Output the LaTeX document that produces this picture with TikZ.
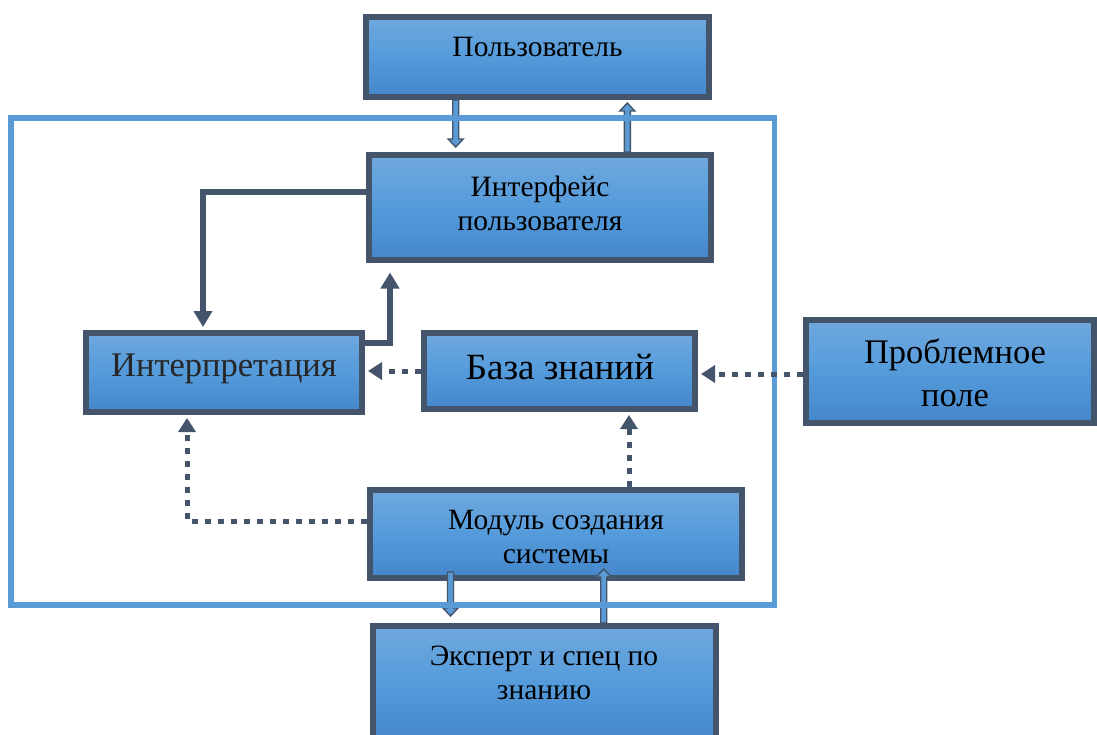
\documentclass[tikz,border=0pt]{standalone}
\usepackage{fontspec}
\setmainfont{Liberation Serif}
\usetikzlibrary{arrows.meta,calc}

\definecolor{edge}{HTML}{44546A}
\definecolor{frameblue}{HTML}{5B9BD5}
\definecolor{boxtop}{HTML}{70A8DE}
\definecolor{boxmid}{HTML}{549BDB}
\definecolor{boxbot}{HTML}{4487CB}
\definecolor{shaft}{HTML}{5B9BD5}

\tikzset{
  box/.style={draw=edge, line width=6pt, top color=boxtop, bottom color=boxbot,
    middle color=boxmid, inner sep=0pt},
  label text/.style={align=center, text=black, inner sep=0pt},
  solidarr/.style={draw=edge, line width=5.5pt,
    -{Triangle[width=18pt,length=16pt]}},
  dotarr/.style={draw=edge, line width=5pt, dash pattern=on 6pt off 7pt,
    -{Triangle[width=17pt,length=14pt]}},
  hollow/.style={fill=shaft, draw=edge, line width=1.4pt, line join=miter},
}

% Outlined block arrow from #1 to the level of #2 (same x as #1);
% #3 = 1 when the tip lies below the start, -1 when above.
\newcommand\hollowarrow[3]{%
  \coordinate (ha-s) at #1;
  \coordinate (ha-e) at #2;
  \filldraw[hollow]
    ($(ha-s)+(-3,0)$) -- ($(ha-s |- ha-e)+(-3,{-8*(#3)})$)
    -- ($(ha-s |- ha-e)+(-7.5,{-8*(#3)})$) -- (ha-s |- ha-e)
    -- ($(ha-s |- ha-e)+(7.5,{-8*(#3)})$) -- ($(ha-s |- ha-e)+(3,{-8*(#3)})$)
    -- ($(ha-s)+(3,0)$) -- cycle;}

\begin{document}
\begin{tikzpicture}[x=1pt,y=-1pt]
  \useasboundingbox (0,0) rectangle (1097,735);
  \clip (0,0) rectangle (1097,735);
  \fill[white] (0,0) rectangle (1097,735);

  % blocks
  \node[box, minimum width=343pt, minimum height=80pt]  (user)   at (537.5,57)  {};
  \node[box, minimum width=342pt, minimum height=105pt] (iface)  at (540,207.5) {};
  \node[box, minimum width=276pt, minimum height=79pt]  (interp) at (224,372.5) {};
  \node[box, minimum width=271pt, minimum height=76pt]  (kb)     at (559.5,371) {};
  \node[box, minimum width=288pt, minimum height=103pt] (prob)   at (950,371.5) {};
  \node[box, minimum width=372pt, minimum height=88pt]  (module) at (556,534)   {};
  \node[box, minimum width=343pt, minimum height=116pt] (expert) at (544.5,684) {};

  % captions
  \node[label text, font=\fontsize{29.5}{34}\selectfont] (tuser)   at (537.5,47) {Пользователь};
  \node[label text, font=\fontsize{29.5}{34}\selectfont] (tiface)  at (540,203)  {Интерфейс\\пользователя};
  \node[label text, font=\fontsize{34.5}{40}\selectfont, text=black!85] (tinterp) at (224,369) {Интерпретация};
  \node[label text, font=\fontsize{37}{40}\selectfont] (tkb)     at (560,367)  {База знаний};
  \node[label text, font=\fontsize{34.5}{43}\selectfont] (tprob)   at (955,373)  {Проблемное\\поле};
  \node[label text, font=\fontsize{29.5}{34}\selectfont] (tmodule) at (556,537)  {Модуль создания\\системы};
  \node[label text, font=\fontsize{29.5}{34}\selectfont] (texpert) at (544,673)  {Эксперт и спец по\\знанию};

  % user <-> interface and module <-> expert
  \hollowarrow{($(user.south west)+(92.7,0)$)}{($(iface.north west)+(92.7,-5)$)}{1}
  \hollowarrow{($(iface.north west)+(261.3,0)$)}{($(user.south west)+(264.3,3)$)}{-1}
  \hollowarrow{($(module.south west)+(83.5,-9)$)}{($(expert.north west)+(83.5,-7)$)}{1}
  \hollowarrow{($(expert.north west)+(233.7,0)$)}{($(module.south west)+(233.7,-12)$)}{-1}

  % system boundary
  \draw[frameblue, line width=5.5pt] (11,118) rectangle (774.5,605);

  % solid links
  \draw[solidarr, shorten >=3pt] ($(iface.west)+(0,-15.5)$) -| ($(interp.north west)+(120,0)$);
  \draw[solidarr, shorten >=9.5pt] ($(interp.east)+(0,-29.5)$) -| ($(iface.south west)+(24,0)$);

  % dotted links
  \draw[dotarr, shorten >=3pt] (kb.west) -- (kb.west -| interp.east);
  \coordinate (probin) at ($(prob.west)+(0,2.5)$);
  \draw[dotarr, shorten >=3pt] (probin) -- (probin -| kb.east);
  \draw[dotarr, shorten >=3pt] ($(module.west)+(0,-13)$) -| ($(interp.south west)+(104,0)$);
  \coordinate (modout) at ($(module.north west)+(262,0)$);
  \draw[dotarr, shorten >=3pt] (modout) -- (modout |- kb.south);
\end{tikzpicture}
\end{document}
